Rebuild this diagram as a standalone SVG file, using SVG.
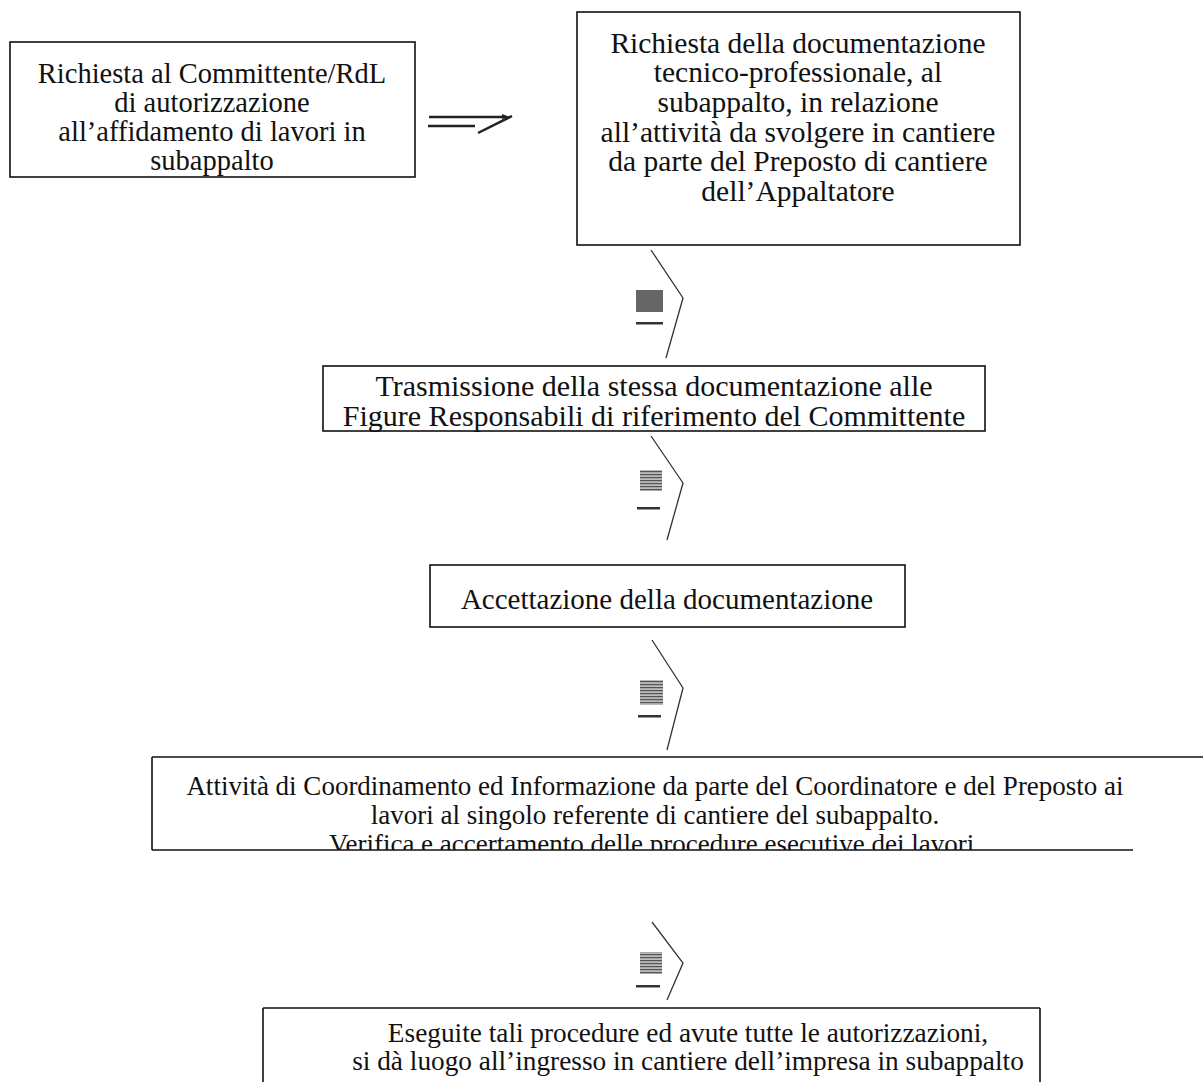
<svg xmlns="http://www.w3.org/2000/svg" width="1203" height="1082" viewBox="0 0 1203 1082">
<style>
.box{fill:none;stroke:#111;stroke-width:1.6}
.t{font-family:"Liberation Serif","Times New Roman",serif;font-size:28.5px;fill:#111;text-anchor:middle}
.t2{font-size:29.5px}
.t3{font-size:30px}
.t4{font-size:29px}
.t5{font-size:27px}
.t6{font-size:27.3px}
.chev{fill:none;stroke:#333;stroke-width:1.3}
.blk{fill:#666}
.dash{fill:#333}
</style>
<defs>
<pattern id="hatch" width="4" height="3" patternUnits="userSpaceOnUse">
<rect width="4" height="3" fill="#bbb"/>
<rect width="4" height="1.2" fill="#555"/>
</pattern>
<clipPath id="c5"><rect x="0" y="0" width="1203" height="850"/></clipPath>
</defs>
<rect width="1203" height="1082" fill="#fff"/>

<g id="n1">
<rect class="box" x="10" y="42" width="405" height="135"/>
<text class="t" x="212" y="83">Richiesta al Committente/RdL</text>
<text class="t" x="212" y="112">di autorizzazione</text>
<text class="t" x="212" y="141">all’affidamento di lavori in</text>
<text class="t" x="212" y="170">subappalto</text>
</g>

<g id="n2">
<rect class="box" x="577" y="12" width="443" height="233"/>
<text class="t t2" x="798" y="53">Richiesta della documentazione</text>
<text class="t t2" x="798" y="82">tecnico-professionale, al</text>
<text class="t t2" x="798" y="112">subappalto, in relazione</text>
<text class="t t2" x="798" y="142">all’attività da svolgere in cantiere</text>
<text class="t t2" x="798" y="171">da parte del Preposto di cantiere</text>
<text class="t t2" x="798" y="201">dell’Appaltatore</text>
</g>

<g id="n3">
<rect class="box" x="323" y="366" width="662" height="65"/>
<text class="t t3" x="654" y="396">Trasmissione della stessa documentazione alle</text>
<text class="t t3" x="654" y="426">Figure Responsabili di riferimento del Committente</text>
</g>

<g id="n4">
<rect class="box" x="430" y="565" width="475" height="62"/>
<text class="t t4" x="667" y="609">Accettazione della documentazione</text>
</g>

<g id="n5">
<path class="box" d="M152,757 H1203 M152,757 V850 M152,850 H1133"/>
<text class="t t5" x="655" y="795">Attività di Coordinamento ed Informazione da parte del Coordinatore e del Preposto ai</text>
<text class="t t5" x="655" y="824">lavori al singolo referente di cantiere del subappalto.</text>
<g clip-path="url(#c5)">
<text class="t t5" x="655" y="853">Verifica e accertamento delle procedure esecutive dei lavori.</text>
</g>
</g>

<g id="n6">
<path class="box" d="M263,1008 H1040 M263,1008 V1082 M1040,1008 V1082"/>
<text class="t t6" x="688" y="1042">Eseguite tali procedure ed avute tutte le autorizzazioni,</text>
<text class="t t6" x="688" y="1070">si dà luogo all’ingresso in cantiere dell’impresa in subappalto</text>
</g>

<g id="connectors">
<g id="e1">
<path d="M429,117 H504" stroke="#222" stroke-width="2.5" fill="none"/>
<path d="M502,114 L510,117 L502,119 Z" fill="#222"/>
<path d="M428,126 H475" stroke="#222" stroke-width="2.5" fill="none"/>
<path d="M478,133 L512,116" stroke="#222" stroke-width="2.5" fill="none"/>
</g>
<g id="e2">
<path class="chev" d="M651,250 L683,298 L666,358"/>
<rect class="blk" x="636" y="290" width="27" height="22"/>
<rect class="dash" x="636" y="322" width="27" height="2.5"/>
</g>
<g id="e3">
<path class="chev" d="M651,436 L683,483 L667,540"/>
<rect x="640" y="470" width="22" height="21" fill="url(#hatch)"/>
<rect class="dash" x="637" y="507" width="23" height="2.5"/>
</g>
<g id="e4">
<path class="chev" d="M652,640 L683,688 L667,750"/>
<rect x="640" y="680" width="23" height="25" fill="url(#hatch)"/>
<rect class="dash" x="638" y="715" width="23" height="2.5"/>
</g>
<g id="e5">
<path class="chev" d="M652,922 L683,963 L667,1000"/>
<rect x="640" y="952" width="22" height="22" fill="url(#hatch)"/>
<rect class="dash" x="636" y="985" width="24" height="2.5"/>
</g>
</g>
</svg>
